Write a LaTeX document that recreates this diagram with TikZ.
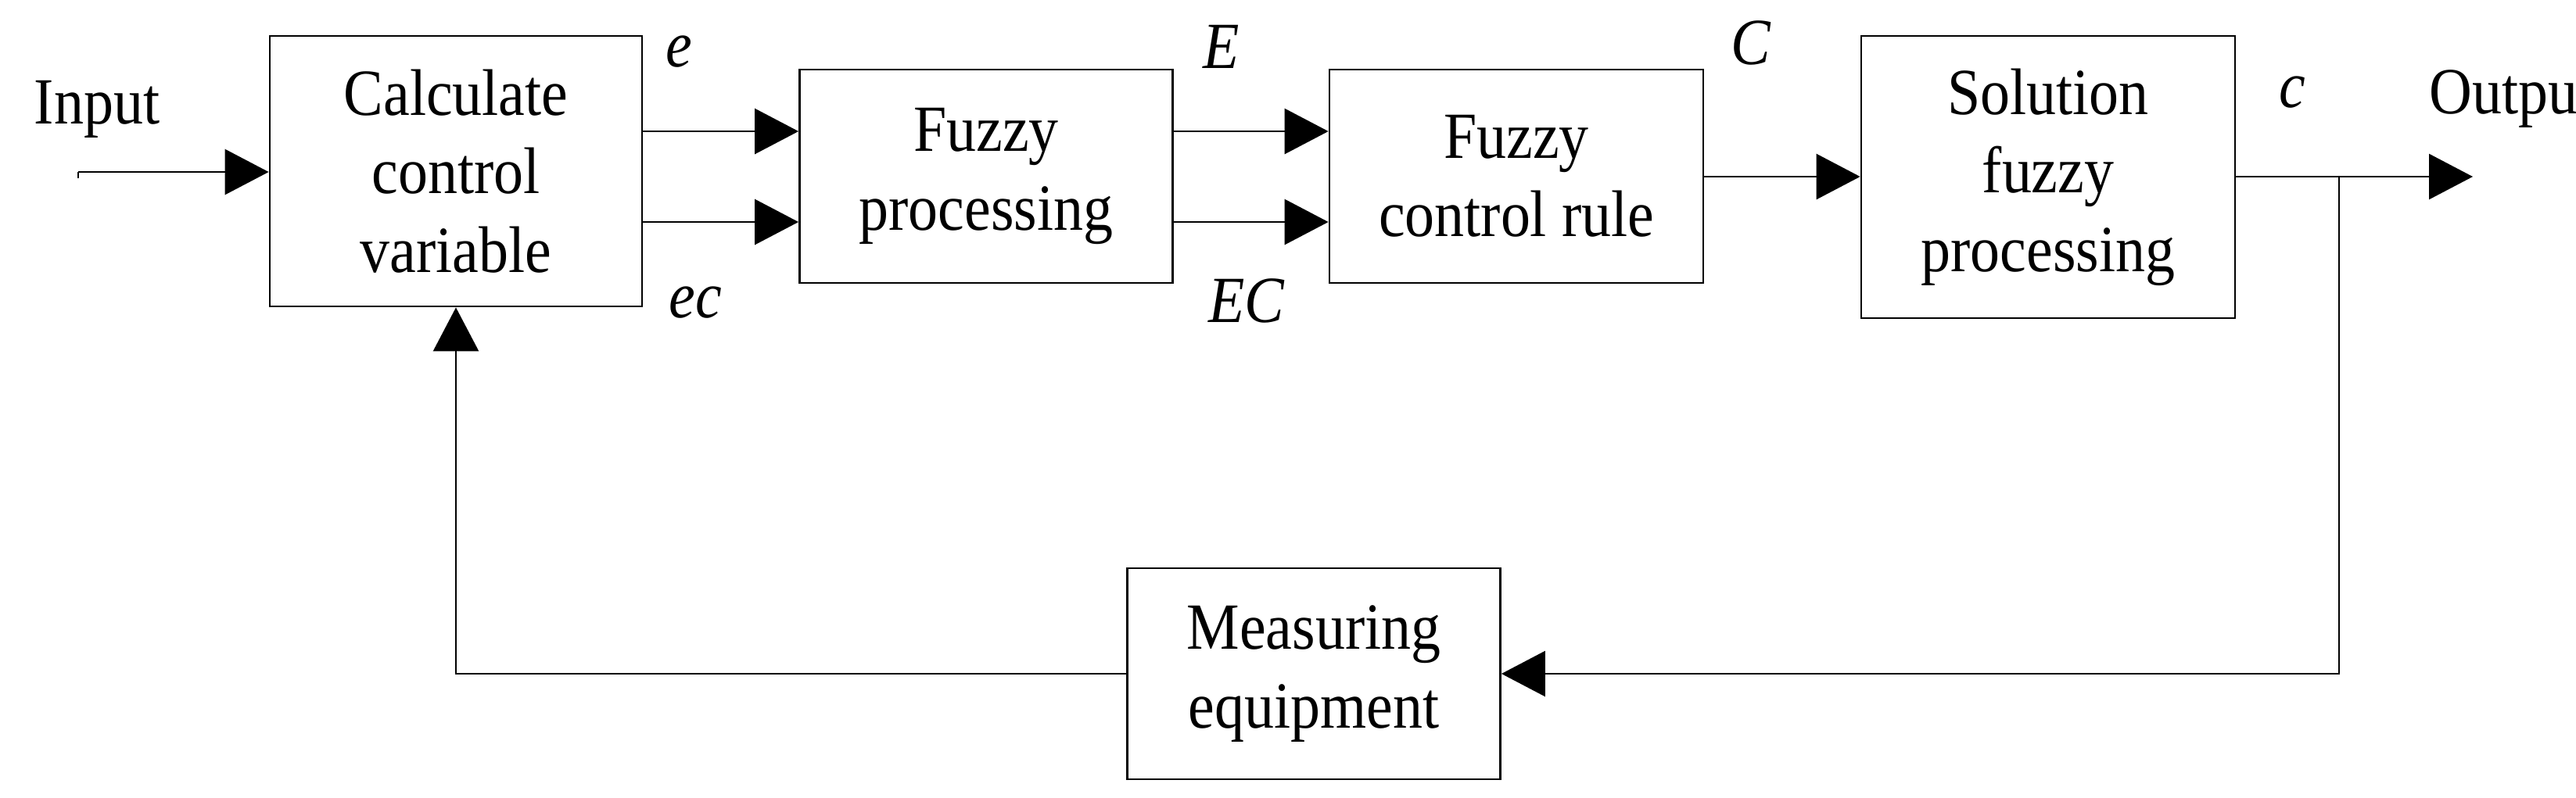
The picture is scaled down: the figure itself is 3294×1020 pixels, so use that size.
\documentclass[tikz,border=0pt]{standalone}
\usepackage{fontspec}
\setmainfont{Liberation Serif}
\usetikzlibrary{arrows.meta}
\newcommand{\sq}[1]{\scalebox{0.9}[1]{#1}}
\begin{document}
\begin{tikzpicture}[x=0.1mm,y=-0.1mm,
  box/.style={draw,line width=0.8pt,inner sep=0pt},
  lbl/.style={font=\fontsize{24}{28.6}\selectfont,align=center},
  il/.style={font=\fontsize{24}{28.6}\selectfont\itshape},
  arr/.style={line width=0.8pt,-{Triangle[length=5.6mm,width=5.8mm]}},
  ln/.style={line width=0.8pt}]
\useasboundingbox (0,0) rectangle (3294,1020);
\node[box,minimum width=47.6mm,minimum height=34.6mm] (calc) at (583,219) {};
\node[lbl] at (calc) {\sq{Calculate}\\\sq{control}\\\sq{variable}};
\node[box,minimum width=47.7mm,minimum height=27.3mm] (fp) at (1261,225.5) {};
\node[lbl] at (fp) {\sq{Fuzzy}\\\sq{processing}};
\node[box,minimum width=47.8mm,minimum height=27.3mm] (fr) at (1939,225.5) {};
\node[lbl] at (fr) {\sq{Fuzzy}\\\sq{control rule}};
\node[box,minimum width=47.8mm,minimum height=36.1mm] (sf) at (2619,226.5) {};
\node[lbl] at (sf) {\sq{Solution}\\\sq{fuzzy}\\\sq{processing}};
\node[box,minimum width=47.7mm,minimum height=27mm] (me) at (1680,862) {};
\node[lbl] at (me) {\sq{Measuring}\\\sq{equipment}};
\node[lbl] (in) at (124,140) {\sq{Input}};
\node[lbl] (out) at (3212,127) {\sq{Output}};
\node[il] at (868,66) {\sq{e}};
\node[il] at (889,387) {\sq{ec}};
\node[il] at (1562,60) {\sq{E}};
\node[il] at (1594,385) {\sq{EC}};
\node[il] at (2239,55) {\sq{C}};
\node[il] at (2931,118) {\sq{c}};
\coordinate (s) at (100,220);
\coordinate (s0) at (100,228);
\draw[ln] (s0) -- (s);
\draw[arr] (s) -- (calc.west |- s);
\draw[arr] (calc.east |- 0,168) -- (fp.west |- 0,168);
\draw[arr] (calc.east |- 0,284) -- (fp.west |- 0,284);
\draw[arr] (fp.east |- 0,168) -- (fr.west |- 0,168);
\draw[arr] (fp.east |- 0,284) -- (fr.west |- 0,284);
\draw[arr] (fr.east |- 0,226) -- (sf.west |- 0,226);
\coordinate (br) at (2991,226);
\coordinate (tip) at (3162,226);
\draw[arr] (sf.east |- br) -- (tip);
\draw[arr] (br) |- (me.east);
\draw[arr] (me.west) -| (calc.south);
\end{tikzpicture}
\end{document}
